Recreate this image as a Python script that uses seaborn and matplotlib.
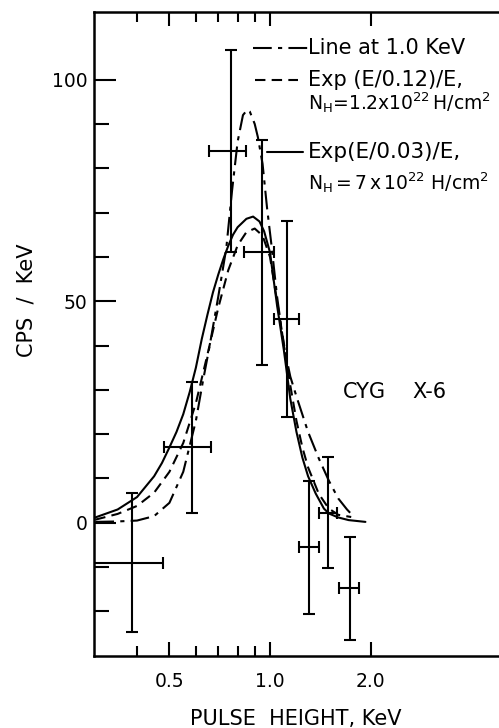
import matplotlib
matplotlib.use('Agg')
import numpy as np
import pandas as pd
import matplotlib.pyplot as plt
import seaborn as sns
from matplotlib.ticker import FixedLocator, FixedFormatter, NullFormatter

# measured points (pulse height in keV, counts/s/keV)
pts_x = [0.386, 0.583, 0.766, 0.948, 1.122, 1.308, 1.491, 1.732]
pts_y = [-9.0, 17.0, 84.0, 61.0, 46.0, -5.5, 2.3, -14.8]
pts_yerr = [15.7, 14.8, 22.8, 25.4, 22.2, 15.0, 12.5, 11.6]
pts_xlo = [0.28, 0.482, 0.657, 0.838, 1.03, 1.221, 1.404, 1.612]
pts_xhi = [0.478, 0.666, 0.846, 1.03, 1.219, 1.404, 1.583, 1.842]

# model curves
line_x = [0.30, 0.35, 0.40, 0.45, 0.50, 0.55, 0.60, 0.63, 0.66, 0.70, 0.74, 0.77,
          0.80, 0.83, 0.855, 0.87, 0.90, 0.92, 0.95, 0.98, 1.01, 1.05, 1.10, 1.15,
          1.20, 1.30, 1.40, 1.50, 1.60, 1.70, 1.76]
line_y = [0.2, 0.3, 0.5, 1.5, 4.5, 11.5, 23.0, 32.0, 40.0, 51.0, 62.0, 75.0,
          86.0, 92.0, 93.2, 92.8, 90.0, 87.0, 81.0, 71.0, 62.7, 51.0, 40.0, 33.0,
          28.5, 20.5, 14.5, 9.5, 5.5, 3.0, 1.8]

exp12_x = [0.30, 0.35, 0.40, 0.45, 0.50, 0.55, 0.60, 0.65, 0.70, 0.75, 0.80, 0.85,
           0.90, 0.95, 1.00, 1.05, 1.10, 1.15, 1.20, 1.25, 1.30, 1.40, 1.50, 1.60, 1.75]
exp12_y = [0.7, 2.0, 3.8, 6.8, 11.5, 18.0, 27.0, 38.0, 48.5, 57.0, 62.6, 65.6,
           66.4, 64.8, 60.0, 50.0, 40.5, 31.0, 23.0, 17.0, 12.5, 6.5, 3.2, 1.8, 1.3]

exp03_x = [0.30, 0.35, 0.40, 0.45, 0.475, 0.50, 0.525, 0.55, 0.575, 0.60, 0.625,
           0.65, 0.675, 0.70, 0.725, 0.75, 0.775, 0.80, 0.85, 0.89, 0.93, 0.96, 1.00,
           1.05, 1.10, 1.15, 1.20, 1.25, 1.30, 1.37, 1.45, 1.50, 1.60, 1.72, 1.93]
exp03_y = [1.2, 3.0, 5.8, 10.5, 13.5, 17.0, 20.5, 24.5, 29.5, 35.0, 41.5,
           47.0, 52.0, 56.0, 59.5, 62.5, 65.0, 66.7, 68.6, 69.1, 68.0, 65.8, 61.0,
           49.0, 39.0, 28.0, 20.5, 14.7, 10.5, 6.6, 3.2, 2.1, 1.2, 0.6, 0.2]

sns.set_style('ticks')
plt.rcParams['font.family'] = ['DejaVu Sans']
plt.rcParams['mathtext.default'] = 'regular'
plt.rcParams['text.color'] = 'black'

fig = plt.figure(figsize=(4.99, 7.28), dpi=100)
ax = fig.add_axes([0.189, 0.0993, 0.811, 0.8838])
ax.set_xscale('log')

sns.lineplot(x=line_x, y=line_y, ax=ax, color='black', linewidth=1.5,
             linestyle=(0, (9, 3, 2, 3)))
sns.lineplot(x=exp12_x, y=exp12_y, ax=ax, color='black', linewidth=1.5,
             linestyle=(0, (5, 3)))
sns.lineplot(x=exp03_x, y=exp03_y, ax=ax, color='black', linewidth=1.5)

px = np.array(pts_x)
ax.errorbar(pts_x, pts_y, yerr=pts_yerr,
            xerr=[px - np.array(pts_xlo), np.array(pts_xhi) - px],
            fmt='none', ecolor='black', elinewidth=1.5, capsize=4.5, capthick=1.5)

ax.set_xlim(0.298, 4.845)
ax.set_ylim(-30, 115.2)

ax.xaxis.set_major_locator(FixedLocator([0.5, 1.0, 2.0]))
ax.xaxis.set_major_formatter(FixedFormatter(['0.5', '1.0', '2.0']))
ax.xaxis.set_minor_locator(FixedLocator([0.4, 0.6, 0.7, 0.8, 0.9]))
ax.xaxis.set_minor_formatter(NullFormatter())
ax.yaxis.set_major_locator(FixedLocator([0, 50, 100]))
ax.yaxis.set_minor_locator(FixedLocator([-20, -10, 10, 20, 30, 40, 60, 70, 80, 90]))

ax.tick_params(which='both', direction='in', top=True, right=False,
               width=1.5, colors='black', labelsize=13.5)
ax.tick_params(axis='x', which='major', length=10, pad=12)
ax.tick_params(axis='x', which='minor', length=7)
ax.tick_params(axis='y', which='major', length=16, pad=5)
ax.tick_params(axis='y', which='minor', length=11)

for side in ['left', 'bottom', 'top']:
    ax.spines[side].set_linewidth(1.8)
    ax.spines[side].set_color('black')
ax.spines['right'].set_visible(False)

# legend drawn by hand, as in the original
tr = ax.transAxes
ax.plot([0.392, 0.528], [0.9445, 0.9445], transform=tr, color='black', lw=1.5,
        linestyle=(0, (9, 3, 2, 3)), clip_on=False)
ax.plot([0.397, 0.503], [0.8948, 0.8948], transform=tr, color='black', lw=1.5,
        linestyle=(0, (5, 3)), clip_on=False)
ax.plot([0.427, 0.516], [0.7826, 0.7826], transform=tr, color='black', lw=1.5,
        clip_on=False)
ax.text(0.528, 0.9445, 'Line at 1.0 KeV', transform=tr, fontsize=15, va='center')
ax.text(0.528, 0.8948, 'Exp (E/0.12)/E,', transform=tr, fontsize=15, va='center')
ax.text(0.528, 0.859, r'N$_H$=1.2x10$^{22}$$\,$H/cm$^2$', transform=tr,
        fontsize=13.5, va='center')
ax.text(0.528, 0.7826, 'Exp(E/0.03)/E,', transform=tr, fontsize=15.5, va='center')
ax.text(0.528, 0.736, r'N$_H$$\,$=$\,$7$\,$x$\,$10$^{22}$ H/cm$^2$', transform=tr,
        fontsize=13.5, va='center')
ax.text(0.6145, 0.41, 'CYG', transform=tr, fontsize=15, va='center')
ax.text(0.787, 0.41, 'X-6', transform=tr, fontsize=15, va='center')

fig.text(296 / 499, 1 - 719 / 728, 'PULSE  HEIGHT, KeV', fontsize=15,
         ha='center', va='center')
fig.text(27 / 499, 1 - 300 / 728, 'CPS  /  KeV', fontsize=15, rotation=90,
         ha='center', va='center')

fig.savefig('out.png', dpi=100)
